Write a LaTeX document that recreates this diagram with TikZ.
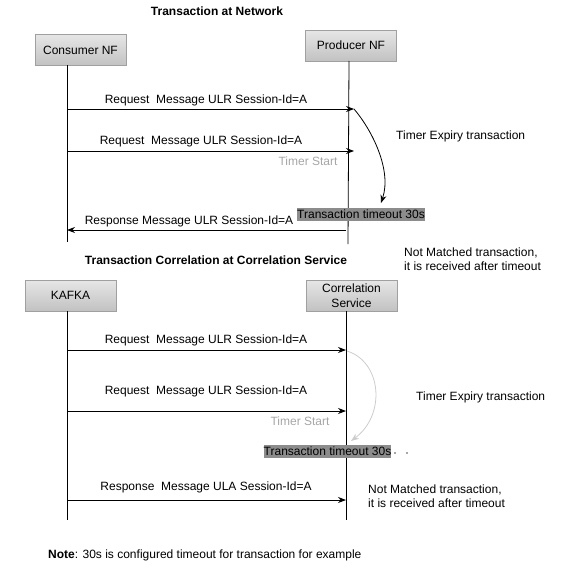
\documentclass[tikz,border=0pt]{standalone}
\usepackage{fontspec}
\setmainfont{Liberation Sans}
\usetikzlibrary{arrows.meta}
\definecolor{boxtop}{HTML}{E6E6E6}
\definecolor{boxbot}{HTML}{C2C2C2}
\definecolor{boxline}{HTML}{A0A0A0}
\definecolor{hilite}{HTML}{8C8C8C}
\definecolor{softgray}{HTML}{A6A6A6}
\definecolor{curvegray}{HTML}{CCCCCC}
\tikzset{
  actor/.style={draw=boxline, top color=boxtop, bottom color=boxbot, minimum width=91pt, minimum height=31pt, inner sep=0pt, align=center, font=\fontsize{12}{15}\selectfont},
  lifeline/.style={draw=black, line width=0.8pt},
  msg/.style={draw=black, line width=0.8pt, -{Stealth[length=8pt,width=6pt]}},
  lbl/.style={inner sep=0pt, font=\fontsize{12}{14}\selectfont},
  ttl/.style={inner sep=0pt, font=\fontsize{12}{14}\selectfont\bfseries},
  graylbl/.style={inner sep=0pt, text=softgray, font=\fontsize{12}{14}\selectfont},
  timeout/.style={fill=hilite, inner sep=0pt, minimum height=13pt, font=\fontsize{12}{13}\selectfont},
  note/.style={inner sep=0pt, align=left, anchor=west, font=\fontsize{12}{14.5}\selectfont},
  expiry/.style={draw=black, line width=0.8pt, -{Stealth[length=8pt,width=6pt]}},
  expirygray/.style={draw=curvegray, line width=0.8pt, -{Stealth[length=8pt,width=6pt,fill=curvegray]}}
}
\begin{document}
\begin{tikzpicture}[x=1pt,y=-1pt]
\useasboundingbox (0,0) rectangle (575,570);

% ---------- Part 1 ----------
\node[ttl] (t1) at (217,11) {Transaction at Network};
\node[actor] (cons) at (80.5,50) {Consumer NF};
\node[actor] (prod) at (351,45.5) {Producer NF};

\coordinate (cTop) at (67,65);
\coordinate (cBot) at (67,242);
\coordinate (pTop) at (349,61);
\coordinate (pBot) at (348,244);
\draw[lifeline] (cTop) -- (cBot);
\draw[lifeline] (pTop) -- (pBot);

\coordinate (c1) at (67,109);  \coordinate (p1) at (354,109);
\coordinate (c2) at (67,151);  \coordinate (p2) at (354,151);
\coordinate (c3) at (67,230);  \coordinate (p3) at (346,230);
\draw[msg] (c1) -- (p1);
\draw[msg] (c2) -- (p2);
\draw[msg] (p3) -- (c3);

\node[lbl] (l1) at (206,100) {Request\ \ Message ULR Session-Id=A};
\node[lbl] (l2) at (201,141) {Request\ \ Message ULR Session-Id=A};
\node[graylbl] (ts1) at (308,161) {Timer Start};
\node[lbl] (l3) at (189,221) {Response Message ULR Session-Id=A};

\coordinate (e1s) at (354,109);
\coordinate (e1e) at (381,203);
\draw[expiry] (e1s) .. controls (372,130) and (392,170) .. (e1e);
\node[lbl, anchor=west] (tx1) at (396,136) {Timer Expiry transaction};
\node[timeout] (to1) at (361,214.5) {Transaction timeout 30s};
\node[note] (nm1) at (404,259) {Not Matched transaction,\\it is received after timeout};

% ---------- Part 2 ----------
\node[ttl] (t2) at (216,260) {Transaction Correlation at Correlation Service};
\node[actor] (kafka) at (70.5,295.5) {KAFKA};
\node[actor, font=\fontsize{12}{15.5}\selectfont] (corr) at (351.5,295.5) {Correlation\\Service};

\coordinate (kTop) at (67,311);
\coordinate (kBot) at (67,520);
\coordinate (sTop) at (346,311);
\coordinate (sBot) at (346,520);
\draw[lifeline] (kTop) -- (kBot);
\draw[lifeline] (sTop) -- (sBot);

\coordinate (k1) at (67,350);  \coordinate (s1) at (346,350);
\coordinate (k2) at (67,411);  \coordinate (s2) at (346,411);
\coordinate (k3) at (67,500);  \coordinate (s3) at (346,500);
\draw[msg] (k1) -- (s1);
\draw[msg] (k2) -- (s2);
\draw[msg] (k3) -- (s3);

\node[lbl] (l4) at (206,340) {Request\ \ Message ULR Session-Id=A};
\node[lbl] (l5) at (206,391) {Request\ \ Message ULR Session-Id=A};
\node[graylbl] (ts2) at (300,421) {Timer Start};
\node[lbl] (l6) at (206,487) {Response\ \ Message ULA Session-Id=A};

\coordinate (e2s) at (347,351);
\coordinate (e2e) at (351,441);
\draw[expirygray] (e2s) .. controls (382,362) and (386,415) .. (e2e);
\node[lbl, anchor=west] (tx2) at (416,397) {Timer Expiry transaction};
\node[timeout] (to2) at (327.5,451.5) {Transaction timeout 30s};
\fill[black!70] (395,453) circle (0.8pt) (407,453) circle (0.8pt);
\node[note] (nm2) at (368,496) {Not Matched transaction,\\it is received after timeout};

\node[lbl, anchor=west] (nt) at (48,555) {\textbf{Note}: 30s is configured timeout for transaction for example};
\end{tikzpicture}
\end{document}
